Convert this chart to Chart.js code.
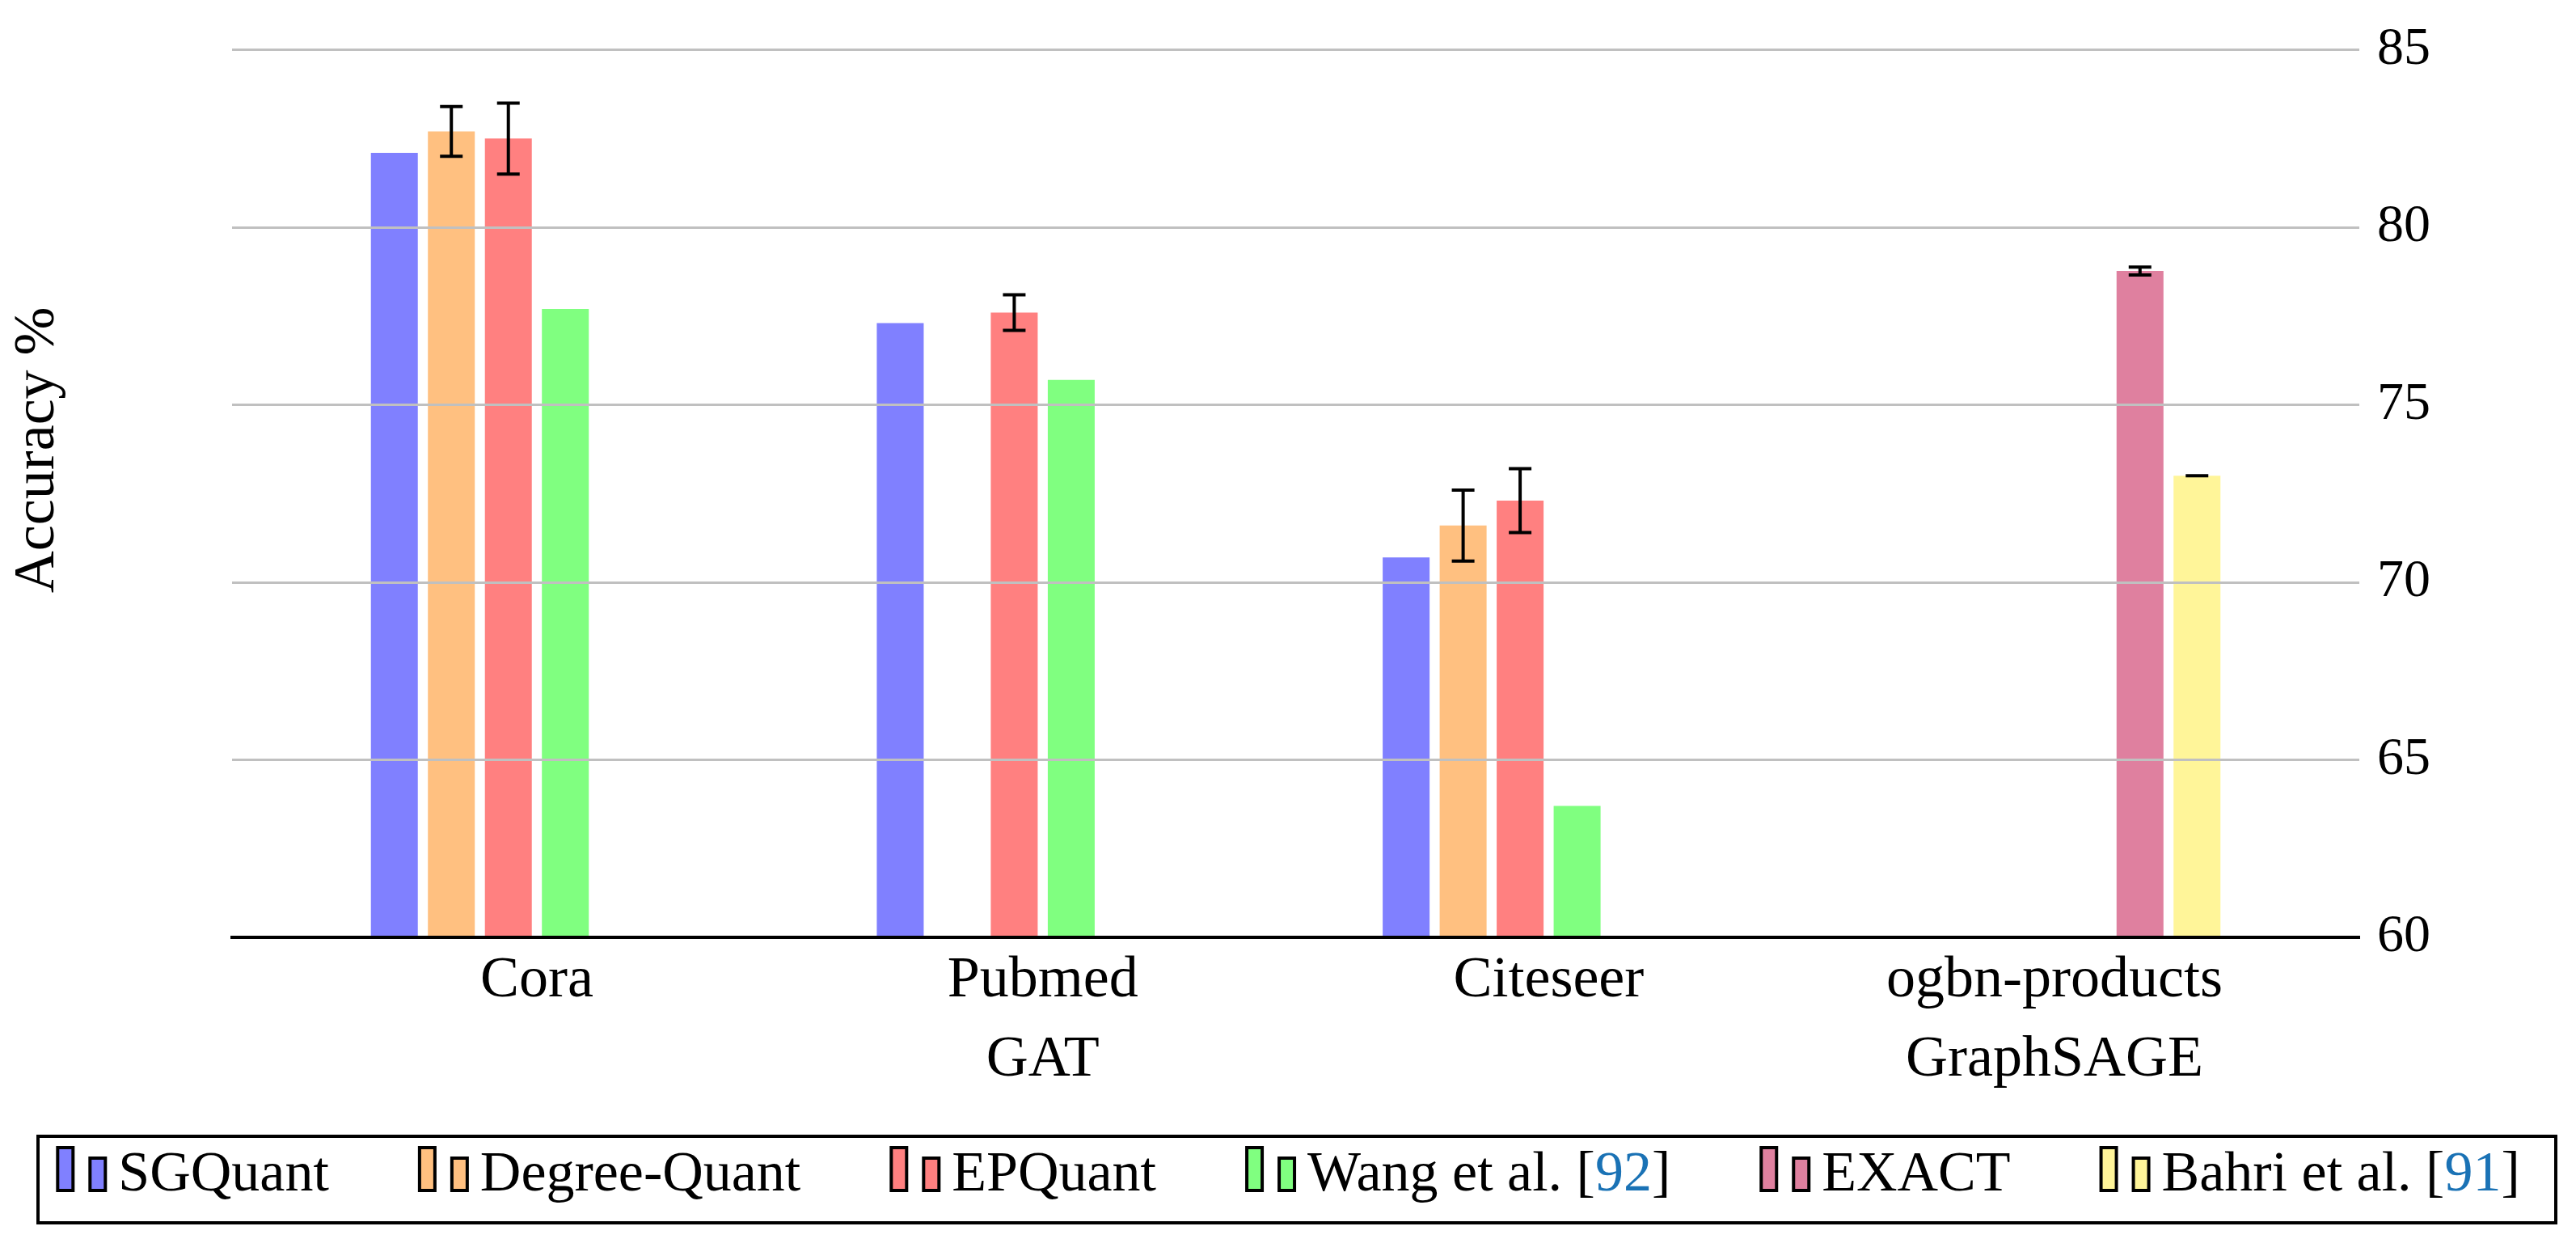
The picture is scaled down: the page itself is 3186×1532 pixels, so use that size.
<!DOCTYPE html>
<html>
<head>
<meta charset="utf-8">
<script src="https://cdn.jsdelivr.net/npm/chart.js@4/dist/chart.umd.min.js"></script>
<style>
html, body { margin: 0; padding: 0; background: #ffffff; }
#wrap { width: 3186px; height: 1532px; }
</style>
</head>
<body>
<div id="wrap"><canvas id="c" width="3186" height="1532"></canvas></div>
<script>
// ---------------- data ----------------
const categories = [["Cora"], ["Pubmed", "GAT"], ["Citeseer"], ["ogbn-products", "GraphSAGE"]];
const seriesNames = ["SGQuant", "Degree-Quant", "EPQuant", "Wang et al. [92]", "EXACT", "Bahri et al. [91]"];

const sgquant      = [82.1, 77.3, 70.7, null];
const degreeQuant  = [82.7, null, 71.6, null];
const epquant      = [82.5, 77.6, 72.3, null];
const wang         = [77.7, 75.7, 63.7, null];
const exact        = [null, null, null, 78.77];
const bahri        = [null, null, null, 73.0];

const sgquantErr     = [null, null, null, null];
const degreeQuantErr = [0.7, null, 1.0, null];
const epquantErr     = [1.0, 0.5, 0.9, null];
const wangErr        = [null, null, null, null];
const exactErr       = [null, null, null, 0.11];
const bahriErr       = [null, null, null, 0];

const yTicks = [60, 65, 70, 75, 80, 85];
const yTitle = "Accuracy %";

const seriesColors = ["#8080ff", "#ffc080", "#ff8080", "#80ff80", "#df809f", "#fff599"];
const citeColor = "#1a72b5";

// ---------------- helpers ----------------
const FONT = "'Liberation Serif', 'Times New Roman', serif";
Chart.defaults.font.family = FONT;
Chart.defaults.color = "#000000";

const allValues = [sgquant, degreeQuant, epquant, wang, exact, bahri];
const allErrors = [sgquantErr, degreeQuantErr, epquantErr, wangErr, exactErr, bahriErr];

const LEG_BOX = 132;      // legend box width used by Chart.js
const LEG_FONT = 70;

function makeIcon(color) {
  const W = LEG_BOX + 50, H = 80;
  const cv = document.createElement('canvas');
  cv.width = W; cv.height = H;
  const g = cv.getContext('2d');
  const bw = 4;
  const r2x = W - 4 - 23, r1x = W - 4 - 63;
  const bottom = 60;
  const rects = [[r1x, 3, 23, bottom - 3], [r2x, bottom - 44, 23, 44]];
  rects.forEach(([x, y, w, h]) => {
    g.fillStyle = "#000";
    g.fillRect(x, y, w, h);
    g.fillStyle = color;
    g.fillRect(x + bw, y + bw, w - 2 * bw, h - 2 * bw);
  });
  return cv;
}
const icons = seriesColors.map(makeIcon);

const datasets = seriesNames.map((name, k) => ({
  label: name,
  data: allValues[k].map((v, i) => ({ x: i, y: v })),
  errors: allErrors[k],
  backgroundColor: seriesColors[k],
  borderWidth: 0,
  categoryPercentage: 0.676,
  barPercentage: 0.823,
  yAxisID: 'y'
}));

// error bars drawn from the y scale
const errorBarPlugin = {
  id: 'errorBars',
  afterDatasetsDraw(chart) {
    const ctx = chart.ctx;
    const ys = chart.scales.y;
    chart.data.datasets.forEach((ds, di) => {
      const meta = chart.getDatasetMeta(di);
      meta.data.forEach((bar, i) => {
        const v = ds.data[i].y;
        const e = ds.errors ? ds.errors[i] : null;
        if (v == null || e == null) return;
        const yt = ys.getPixelForValue(v + e);
        const yb = ys.getPixelForValue(v - e);
        const x = bar.x;
        const cap = 14;
        ctx.save();
        ctx.strokeStyle = "#000";
        ctx.lineWidth = 4;
        ctx.beginPath();
        ctx.moveTo(x, yt); ctx.lineTo(x, yb);
        ctx.moveTo(x - cap, yt); ctx.lineTo(x + cap, yt);
        ctx.moveTo(x - cap, yb); ctx.lineTo(x + cap, yb);
        ctx.stroke();
        ctx.restore();
      });
    });
  }
};

// legend: centre the visible content, frame it, colour citation numbers
const legendDecor = {
  id: 'legendDecor',
  afterLayout(chart) {
    const lg = chart.legend;
    if (!lg) return;
    const shift = (LEG_BOX - 42) / 2;
    lg.left -= shift;
    lg.right -= shift;
  },
  afterDraw(chart) {
    const lg = chart.legend;
    if (!lg || !lg.legendHitBoxes) return;
    const ctx = chart.ctx;
    const mid = lg.top + lg.options.labels.padding + LEG_FONT / 2;
    ctx.save();
    ctx.strokeStyle = "#000";
    ctx.lineWidth = 4;
    ctx.strokeRect(47, mid - 49, chart.width - 72, 107);
    ctx.font = LEG_FONT + "px " + FONT;
    ctx.textBaseline = 'middle';
    ctx.textAlign = 'left';
    lg.legendItems.forEach((item, i) => {
      const m = item.text.match(/^(.*\[)(\d+)\]$/);
      if (!m) return;
      const hb = lg.legendHitBoxes[i];
      const tx = hb.left + LEG_BOX + LEG_FONT / 2;
      const ty = hb.top + hb.height / 2;
      const w0 = ctx.measureText(m[1]).width;
      const w1 = ctx.measureText(m[2]).width;
      ctx.fillStyle = "#ffffff";
      ctx.fillRect(tx + w0, ty - 38, w1, 62);
      ctx.fillStyle = citeColor;
      ctx.fillText(m[2], tx + w0, ty);
    });
    ctx.restore();
  }
};

new Chart(document.getElementById('c'), {
  type: 'bar',
  data: { datasets },
  plugins: [errorBarPlugin, legendDecor],
  options: {
    responsive: false,
    devicePixelRatio: 1,
    animation: false,
    layout: { padding: { top: 55, bottom: 33, left: 0, right: 0 } },
    plugins: {
      tooltip: { enabled: false },
      legend: {
        position: 'bottom',
        labels: {
          font: { size: LEG_FONT, family: FONT },
          color: "#000",
          padding: 20,
          usePointStyle: true,
          pointStyleWidth: LEG_BOX,
          generateLabels(chart) {
            return chart.data.datasets.map((ds, i) => ({
              text: ds.label,
              datasetIndex: i,
              pointStyle: icons[i],
              fillStyle: ds.backgroundColor,
              strokeStyle: 'rgba(0,0,0,0)',
              lineWidth: 0,
              fontColor: "#000",
              hidden: false
            }));
          }
        }
      }
    },
    scales: {
      x: {
        type: 'linear',
        min: -0.6025,
        max: 3.6025,
        offset: false,
        grid: { display: false, drawTicks: false },
        border: { display: true, color: "#000", width: 4, z: 2 },
        afterBuildTicks(s) { s.ticks = categories.map((c, i) => ({ value: i })); },
        afterFit(s) { s.height = 240; },
        ticks: {
          autoSkip: false,
          maxRotation: 0,
          padding: 5,
          color: "#000",
          font: { size: 72, family: FONT, lineHeight: 1.36 },
          callback: (v) => categories[v]
        }
      },
      y: {
        type: 'linear',
        position: 'right',
        min: yTicks[0],
        max: yTicks[yTicks.length - 1],
        afterBuildTicks(s) { s.ticks = yTicks.map(v => ({ value: v })); },
        afterFit(s) { s.width = 268; },
        grid: {
          z: 1,
          drawTicks: false,
          lineWidth: 3,
          color: (c) => (c.tick && c.tick.value === yTicks[0]) ? 'rgba(0,0,0,0)' : '#c0c0c0'
        },
        border: { display: false },
        ticks: {
          padding: 22,
          color: "#000",
          font: { size: 66, family: FONT }
        }
      },
      yTitle: {
        type: 'linear',
        axis: 'y',
        position: 'left',
        min: 0,
        max: 1,
        grid: { display: false, drawTicks: false },
        border: { display: false },
        ticks: { display: false },
        afterFit(s) { s.width = 287; },
        title: {
          display: true,
          text: "\u2003\u2002" + yTitle,
          color: "#000",
          padding: { top: 4, bottom: 0 },
          font: { size: 72, family: FONT }
        }
      }
    }
  }
});
</script>
</body>
</html>
